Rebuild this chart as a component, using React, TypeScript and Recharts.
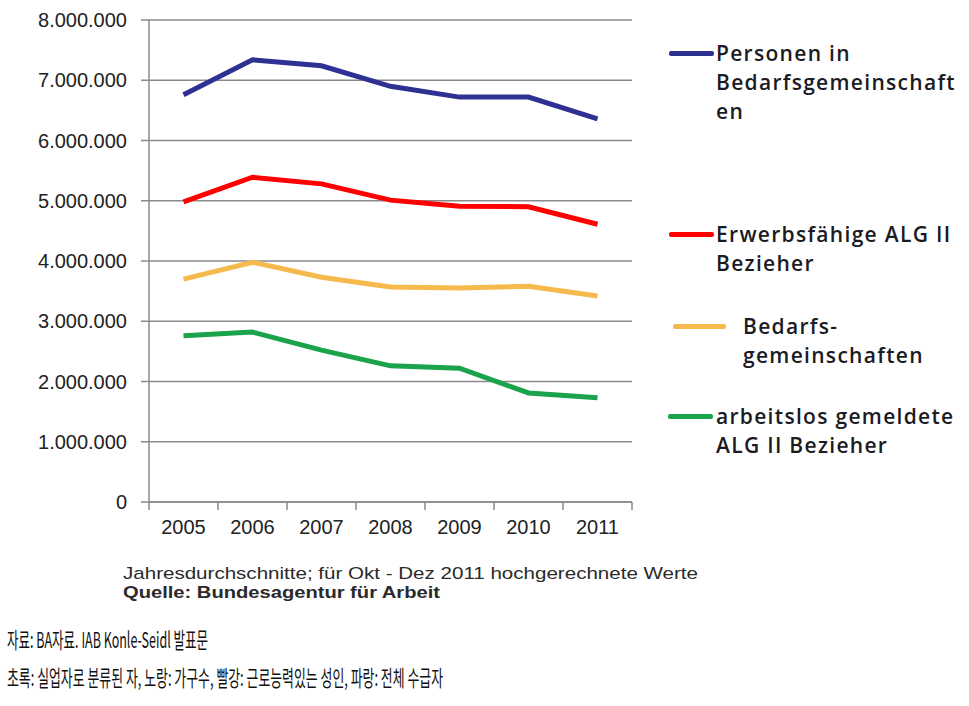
import { LineChart, Line, XAxis, YAxis, CartesianGrid } from "recharts";

const years = ["2005", "2006", "2007", "2008", "2009", "2010", "2011"];
const personen = [6760000, 7340000, 7240000, 6900000, 6720000, 6720000, 6360000];
const erwerbsfaehige = [4980000, 5390000, 5280000, 5010000, 4910000, 4900000, 4610000];
const bedarfsgemeinschaften = [3700000, 3980000, 3730000, 3570000, 3550000, 3580000, 3420000];
const arbeitslos = [2760000, 2820000, 2520000, 2260000, 2220000, 1810000, 1730000];
const yTicks = [0, 1000000, 2000000, 3000000, 4000000, 5000000, 6000000, 7000000, 8000000];

const data = years.map((year, i) => ({
  year,
  personen: personen[i],
  erwerbsfaehige: erwerbsfaehige[i],
  bedarfsgemeinschaften: bedarfsgemeinschaften[i],
  arbeitslos: arbeitslos[i],
}));

const BLUE = "#2e3192";
const RED = "#ff0000";
const YELLOW = "#f5b94c";
const GREEN = "#1aa34a";
const GRID = "#8a8a8a";
const TICK_SIZE = 8;
const TICK_MARGIN = 10;

const fmt = (v: number) => v.toLocaleString("de-DE");

const legendFont = "'Open Sans', sans-serif";

function LegendItem({ color, lineX, lineW, textX, y, lines }: { color: string; lineX: number; lineW: number; textX: number; y: number; lines: string[] }) {
  return (
    <>
      <div style={{ position: "absolute", left: lineX, top: y - 2.5, width: lineW, height: 5, background: color, borderRadius: 2 }} />
      {lines.map((l, i) => (
        <div
          key={i}
          style={{
            position: "absolute",
            left: textX,
            top: y - 15 + i * 29,
            fontFamily: legendFont,
            fontWeight: 600,
            fontSize: 21,
            lineHeight: "30px",
            color: "#1b1b24",
            whiteSpace: "nowrap",
            letterSpacing: 1.3,
          }}
        >
          {l}
        </div>
      ))}
    </>
  );
}

// year label centred in its band, with the tick marks sitting on the band edges
function YearTick(props: any) {
  const { x, y, payload, width, visibleTicksCount } = props;
  const band = width / visibleTicksCount;
  const top = y - TICK_MARGIN - TICK_SIZE;
  const last = payload.index === visibleTicksCount - 1;
  return (
    <g>
      <line x1={x - band / 2} x2={x - band / 2} y1={top} y2={top + TICK_SIZE} stroke={GRID} strokeWidth={1.5} />
      {last && <line x1={x + band / 2} x2={x + band / 2} y1={top} y2={top + TICK_SIZE} stroke={GRID} strokeWidth={1.5} />}
      <text x={x} y={y} dy="0.71em" textAnchor="middle" fill="#222" fontSize={20} fontFamily="'Liberation Sans', Arial, sans-serif">
        {payload.value}
      </text>
    </g>
  );
}

export default function App() {
  return (
    <div style={{ position: "absolute", left: 0, top: 0, width: 969, height: 706, background: "#fff", overflow: "hidden" }}>
      <LineChart width={969} height={706} data={data} margin={{ top: 20, right: 337, left: 0, bottom: 164 }}>
        <CartesianGrid horizontal vertical={false} stroke={GRID} strokeWidth={1.5} />
        <XAxis
          dataKey="year"
          scale="band"
          axisLine={{ stroke: GRID, strokeWidth: 1.5 }}
          tickLine={false}
          tickSize={TICK_SIZE}
          height={40}
          tickMargin={TICK_MARGIN}
          tick={<YearTick />}
        />
        <YAxis
          width={149}
          domain={[0, 8000000]}
          ticks={yTicks}
          tickFormatter={fmt}
          axisLine={{ stroke: GRID, strokeWidth: 1.5 }}
          tickLine={{ stroke: GRID, strokeWidth: 1.5 }}
          tickSize={8}
          tickMargin={14}
          tick={{ fill: "#222", fontSize: 20, fontFamily: "'Liberation Sans', Arial, sans-serif" }}
        />
        <Line dataKey="personen" stroke={BLUE} strokeWidth={5} dot={false} isAnimationActive={false} />
        <Line dataKey="erwerbsfaehige" stroke={RED} strokeWidth={5} dot={false} isAnimationActive={false} />
        <Line dataKey="bedarfsgemeinschaften" stroke={YELLOW} strokeWidth={5} dot={false} isAnimationActive={false} />
        <Line dataKey="arbeitslos" stroke={GREEN} strokeWidth={5} dot={false} isAnimationActive={false} />
      </LineChart>

      <LegendItem color={BLUE} lineX={669} lineW={45} textX={716} y={53} lines={["Personen in", "Bedarfsgemeinschaft", "en"]} />
      <LegendItem color={RED} lineX={669} lineW={45} textX={716} y={234} lines={["Erwerbsfähige ALG II", "Bezieher"]} />
      <LegendItem color={YELLOW} lineX={673} lineW={53} textX={743} y={326} lines={["Bedarfs-", "gemeinschaften"]} />
      <LegendItem color={GREEN} lineX={668} lineW={45} textX={716} y={416} lines={["arbeitslos gemeldete", "ALG II Bezieher"]} />

      <svg width={969} height={706} style={{ position: "absolute", left: 0, top: 0, pointerEvents: "none" }}>
        <text x={123} y={579} fontFamily="'Liberation Sans', Arial, sans-serif" fontSize={17} fill="#2a2a2a" textLength={575} lengthAdjust="spacingAndGlyphs">
          Jahresdurchschnitte; für Okt - Dez 2011 hochgerechnete Werte
        </text>
        <text x={123} y={598} fontFamily="'Liberation Sans', Arial, sans-serif" fontSize={17} fontWeight="bold" fill="#2a2a2a" textLength={317} lengthAdjust="spacingAndGlyphs">
          Quelle: Bundesagentur für Arbeit
        </text>
        <text x={7} y={648} fontFamily="'Noto Sans CJK KR', sans-serif" fontSize={22} fontWeight={400} fill="#111" textLength={201} lengthAdjust="spacingAndGlyphs">
          자료: BA자료. IAB Konle-Seidl 발표문
        </text>
        <text x={7} y={686} fontFamily="'Noto Sans CJK KR', sans-serif" fontSize={22} fontWeight={400} fill="#111" textLength={436} lengthAdjust="spacingAndGlyphs">
          초록: 실업자로 분류된 자, 노랑: 가구수, 빨강: 근로능력있는 성인, 파랑: 전체 수급자
        </text>
      </svg>
    </div>
  );
}
